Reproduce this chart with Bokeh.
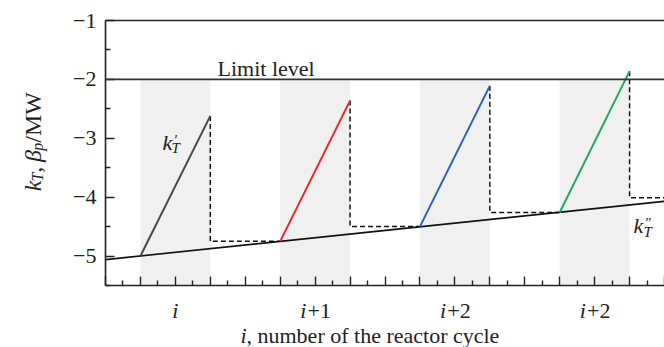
import math
from bokeh.plotting import figure
from bokeh.models import Range1d, FixedTicker, LinearAxis, Span, Label
from bokeh.layouts import column, row
from bokeh.embed import file_html
from bokeh.resources import INLINE

# ---------------- data ----------------
x_ticks_major = list(range(0, 17))
x_ticks_minor = [i + 0.5 for i in range(0, 16)]
y_ticks_major = [-5, -4, -3, -2, -1]
y_ticks_minor = [-5.5, -4.5, -3.5, -2.5, -1.5]
y_tick_labels = ["\u22125", "\u22124", "\u22123", "\u22122", "\u22121"]

cycle_centers = [2, 6, 10, 14]
cycle_label_base = ["i", "i", "i", "i"]
cycle_label_suffix = ["", "+1", "+2", "+2"]

band_left = [1, 5, 9, 13]
band_right = [3, 7, 11, 15]

limit_level = -2.0

base_x = [0, 16]                      # k_T'' line
base_y = [-5.06, -4.07]

rise_x0 = [1, 5, 9, 13]               # k_T' segments
rise_y0 = [-5.0, -4.75, -4.50, -4.26]
rise_x1 = [3, 7, 11, 15]
rise_y1 = [-2.62, -2.36, -2.11, -1.86]
rise_colors = ["#4a4a4a", "#e8262b", "#2f62b6", "#22a85c"]

drop_level = [-4.75, -4.50, -4.26, -4.01]   # dashed reload levels
drop_next_x = [5, 9, 13, 16]

# ---------------- layout ----------------
W, H = 664, 347
LEFT_W = 60            # strip holding the y title
MAIN_H = 295           # main figure height (frame bottom at 285)
FL, FT, FR, FB = 105, 20, 664, 285
XMIN, XMAX, YMIN, YMAX = 0, 16, -5.5, -1

SERIF = "Liberation Serif"
INK = "#222222"


def dx(px):
    return XMIN + (px - FL) / (FR - FL) * (XMAX - XMIN)


def dy(py):
    return YMAX - (py - FT) / (FB - FT) * (YMAX - YMIN)


def add_label(fig, x, y, text, size, style="normal", angle=0.0):
    fig.add_layout(Label(x=x, y=y, text=text, text_font=SERIF,
                         text_font_size=f"{size}px", text_font_style=style,
                         text_color=INK, angle=angle, text_align="left",
                         text_baseline="alphabetic"))


def bare(fig):
    fig.outline_line_color = None
    fig.grid.visible = False
    fig.axis.visible = False


# ---------------- main figure ----------------
p = figure(width=W - LEFT_W, height=MAIN_H, output_backend="svg", toolbar_location=None,
           x_range=Range1d(XMIN, XMAX), y_range=Range1d(YMIN, YMAX),
           min_border_left=FL - LEFT_W, min_border_right=0, min_border_top=FT,
           min_border_bottom=MAIN_H - FB, background_fill_color="white",
           border_fill_color="white")
p.outline_line_color = None
p.grid.visible = False

xa = p.xaxis[0]
xa.ticker = FixedTicker(ticks=x_ticks_major, minor_ticks=x_ticks_minor)
xa.major_label_text_color = None
xa.major_label_standoff = 0
xa.major_tick_in = 9
xa.major_tick_out = 0
xa.minor_tick_in = 5
xa.minor_tick_out = 0

ya = p.yaxis[0]
ya.ticker = FixedTicker(ticks=y_ticks_major, minor_ticks=y_ticks_minor)
ya.major_label_overrides = {t: s for t, s in zip(y_ticks_major, y_tick_labels)}
ya.major_label_text_font = SERIF
ya.major_label_text_font_style = "normal"
ya.major_label_text_font_size = "22px"
ya.major_label_text_color = INK
ya.major_label_standoff = 9
ya.major_tick_in = 9
ya.major_tick_out = 0
ya.minor_tick_in = 5
ya.minor_tick_out = 0

for ax in (xa, ya):
    ax.axis_line_width = 1.6
    ax.major_tick_line_width = 1.4
    ax.minor_tick_line_width = 1.4
    ax.axis_line_color = INK
    ax.major_tick_line_color = INK
    ax.minor_tick_line_color = INK

top = LinearAxis(ticker=FixedTicker(ticks=[]), major_label_text_color=None,
                 major_tick_in=0, major_tick_out=0, minor_tick_in=0, minor_tick_out=0,
                 axis_line_width=1.6, axis_line_color=INK)
p.add_layout(top, "above")

# shaded cycle bands (below the limit level)
p.quad(left=band_left, right=band_right, bottom=YMIN, top=limit_level,
       fill_color="#f0f0f0", line_color=None)

# limit level
p.add_layout(Span(location=limit_level, dimension="width", line_color="#333333",
                  line_width=1.6))

# dashed reload lines
dash_xs = [[x1, x1, xn] for x1, xn in zip(rise_x1, drop_next_x)]
dash_ys = [[y1, lv, lv] for y1, lv in zip(rise_y1, drop_level)]
p.multi_line(xs=dash_xs, ys=dash_ys, line_color="#111111", line_width=1.5,
             line_dash="5 3")

# k_T'' baseline
p.line(base_x, base_y, line_color="#111111", line_width=1.6)

# k_T' rising segments
p.segment(x0=rise_x0, y0=rise_y0, x1=rise_x1, y1=rise_y1, line_color=rise_colors,
          line_width=2)

add_label(p, dx(217), dy(68), "Limit level", 22)
# k_T'
add_label(p, dx(162), dy(142), "k", 22, "italic")
add_label(p, dx(171), dy(147), "T", 15, "italic")
add_label(p, dx(174), dy(139), "\u2032", 15)
# k_T''
add_label(p, dx(633), dy(225), "k", 22, "italic")
add_label(p, dx(643), dy(231), "T", 15, "italic")
add_label(p, dx(645), dy(222), "\u2033", 15)

# ---------------- left strip: y title ----------------
ly = figure(width=LEFT_W, height=MAIN_H, output_backend="svg", toolbar_location=None,
            x_range=Range1d(0, LEFT_W), y_range=Range1d(0, MAIN_H),
            min_border=0, min_border_left=0, min_border_right=0,
            min_border_top=0, min_border_bottom=0)
bare(ly)
YS, SS = 24, 16
pieces = [("k", YS, "italic", False, 0.444 * YS),
          ("T", SS, "italic", True, 0.556 * SS + 1),
          (", ", YS, "normal", False, 0.5 * YS),
          ("\u03b2", YS, "italic", False, 0.52 * YS),
          ("p", SS, "italic", True, 0.5 * SS + 1),
          ("/MW", YS, "normal", False, 2.111 * YS)]
py = 190.0
for text, size, style, sub, w in pieces:
    bx = 37 if sub else 32
    add_label(ly, bx, MAIN_H - py, text, size, style, angle=math.pi / 2)
    py -= w

# ---------------- bottom strip: x labels + title ----------------
BOT_H = H - MAIN_H
bx_fig = figure(width=W, height=BOT_H, output_backend="svg", toolbar_location=None,
                x_range=p.x_range, y_range=Range1d(0, BOT_H),
                min_border=0, min_border_left=FL, min_border_right=0,
                min_border_top=0, min_border_bottom=0)
bare(bx_fig)
FS = 22
PXU = (FR - FL) / (XMAX - XMIN)     # pixels per x unit
for c, b, s in zip(cycle_centers, cycle_label_base, cycle_label_suffix):
    wi = 0.278 * FS
    ws = 1.064 * FS if s else 0.0
    tot = wi + ws
    x0 = c - (tot / 2) / PXU
    add_label(bx_fig, x0, MAIN_H + BOT_H - 310, b, FS, "italic")
    if s:
        add_label(bx_fig, x0 + (wi + 1) / PXU, MAIN_H + BOT_H - 310, s, FS)

add_label(bx_fig, dx(240), MAIN_H + BOT_H - 335, "i", FS, "italic")
add_label(bx_fig, dx(246), MAIN_H + BOT_H - 335, ", number of the reactor cycle", FS)

layout = column(row(ly, p), bx_fig)
open("out.html", "w").write(file_html(layout, INLINE))
